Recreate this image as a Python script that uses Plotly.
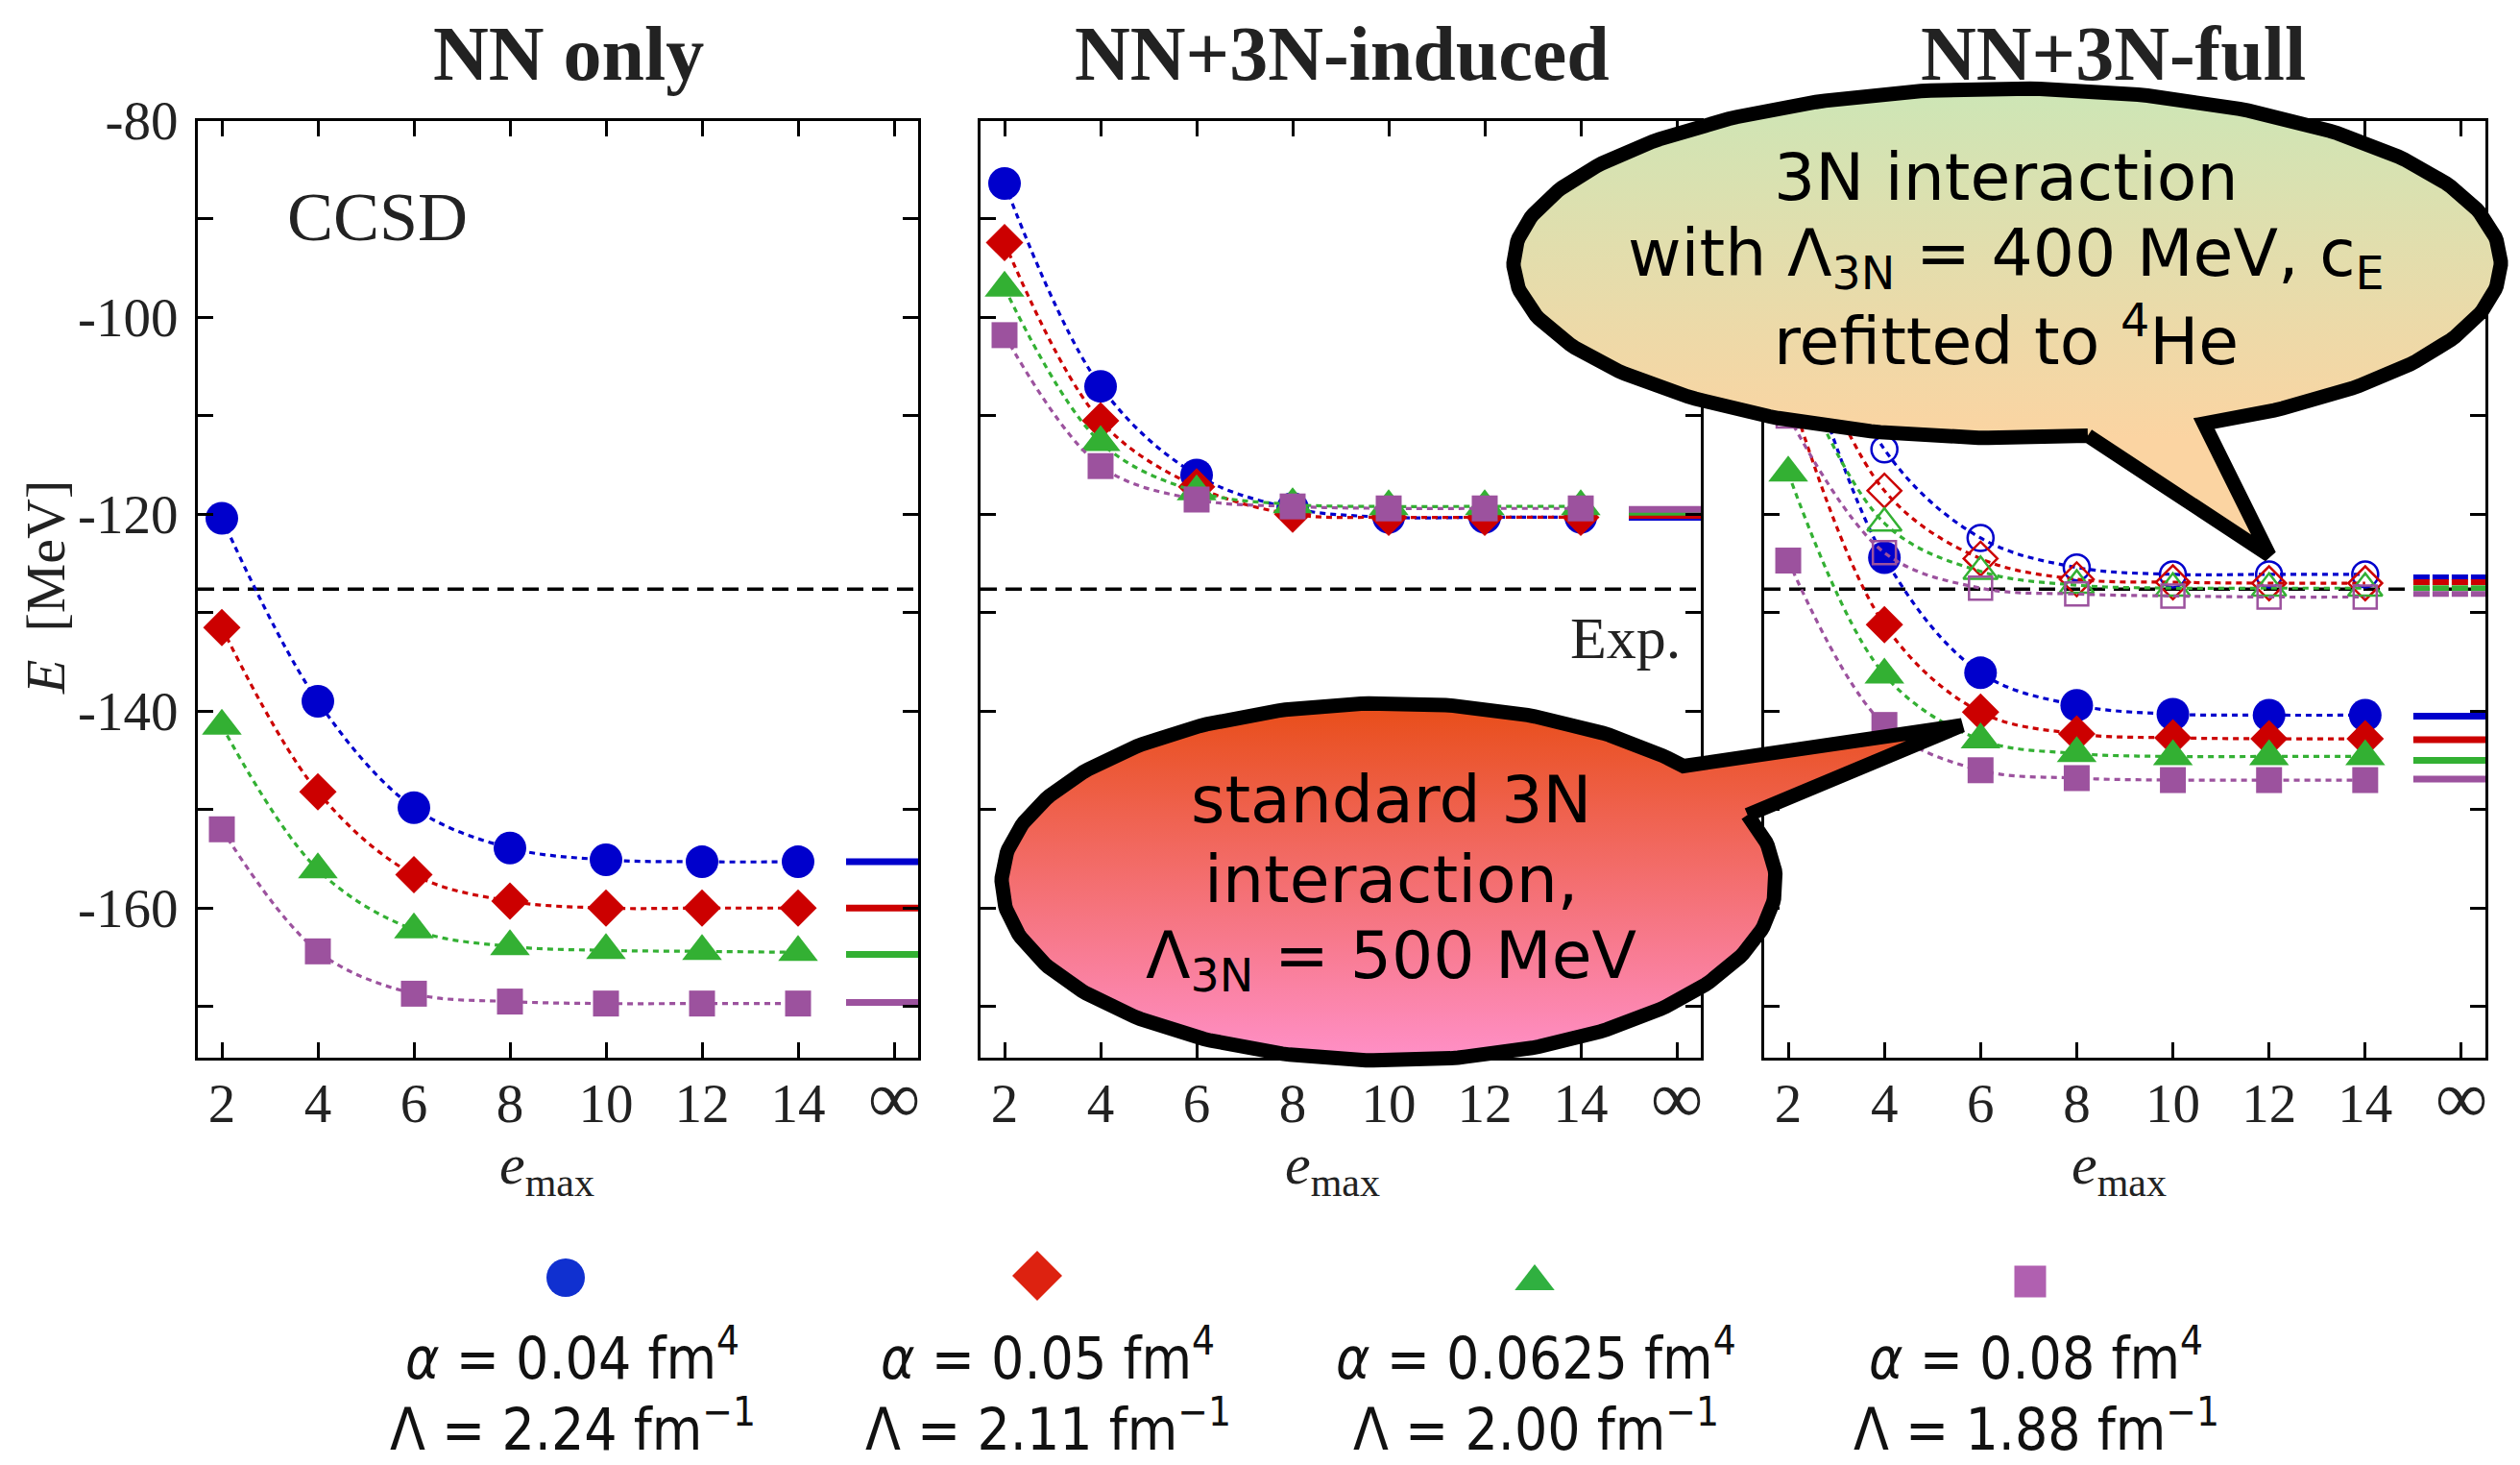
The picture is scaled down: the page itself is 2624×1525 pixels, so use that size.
import numpy as np
import plotly.graph_objects as go

W, H = 2624, 1525
OFF = 8  # page body margin compensation (px)

# ---------------- data ----------------
emax = [2, 4, 6, 8, 10, 12, 14]
x_tick_vals = [2, 4, 6, 8, 10, 12, 14, 16]
x_tick_text = ["2", "4", "6", "8", "10", "12", "14", '<span style="font-size:76px">∞</span>']
y_tick_vals = [-170, -160, -150, -140, -130, -120, -110, -100, -90, -80]
y_tick_text = ["", "-160", "", "-140", "", "-120", "", "-100", "", "-80"]
e_exp = -127.6

panel_titles = ["NN only", "NN+3N-induced", "NN+3N-full"]
alpha_labels = ["0.04", "0.05", "0.0625", "0.08"]
lambda_labels = ["2.24", "2.11", "2.00", "1.88"]

# NN only
nn_a004 = [-120.4, -139.0, -149.8, -153.9, -155.1, -155.3, -155.3]
nn_a005 = [-131.5, -148.2, -156.6, -159.3, -160.0, -160.0, -160.0]
nn_a0625 = [-141.5, -156.1, -162.2, -163.9, -164.3, -164.4, -164.5]
nn_a008 = [-152.0, -164.4, -168.7, -169.5, -169.7, -169.7, -169.7]
nn_inf = [-155.3, -160.0, -164.7, -169.6]

# NN+3N-induced
ind_a004 = [-86.4, -107.0, -116.0, -119.4, -120.3, -120.3, -120.3]
ind_a005 = [-92.4, -110.5, -117.2, -120.0, -120.3, -120.3, -120.3]
ind_a0625 = [-97.0, -112.7, -117.7, -119.0, -119.2, -119.2, -119.2]
ind_a008 = [-101.8, -115.1, -118.5, -119.2, -119.4, -119.4, -119.4]
ind_inf = [-120.3, -120.1, -119.8, -119.5]

# NN+3N-full, standard 3N (Lambda_3N = 500 MeV), filled symbols
full500_a004 = [-98.0, -124.4, -136.1, -139.4, -140.3, -140.4, -140.4]
full500_a005 = [-107.0, -131.2, -140.1, -142.3, -142.7, -142.8, -142.8]
full500_a0625 = [-115.8, -136.3, -142.9, -144.3, -144.6, -144.6, -144.6]
full500_a008 = [-124.7, -141.4, -146.0, -146.8, -147.0, -147.0, -147.0]
full500_inf = [-140.5, -142.9, -145.0, -146.9]

# NN+3N-full, Lambda_3N = 400 MeV, open symbols
full400_a004 = [-90.0, -113.4, -122.4, -125.4, -126.1, -126.1, -126.1]
full400_a005 = [-97.0, -117.6, -124.5, -126.6, -126.9, -127.0, -127.0]
full400_a0625 = [-103.0, -120.9, -125.8, -127.2, -127.5, -127.5, -127.5]
full400_a008 = [-110.0, -123.9, -127.5, -128.1, -128.3, -128.4, -128.4]
full400_inf = [-126.4, -126.9, -127.5, -128.1]

# ---------------- style ----------------
colors = ["#0000cc", "#cc0000", "#33b033", "#9c529e"]
legend_colors = ["#1030d0", "#dd2210", "#30b040", "#b060b0"]
symbols = ["circle", "diamond", "triangle-up", "square"]
sizes_filled = [34, 30, 36, 27]
sizes_open = [27, 27, 31, 24]
x_range = [1.5, 16.5]
inf_bar = [15.0, 16.5]
y_range = [-175.2, -80]

SERIF = "Liberation Serif"
SANS = "DejaVu Sans"

fig = go.Figure()


def axn(k):
    return "" if k == 1 else str(k)


def add_series(k, vals, inf_val, i, open_=False):
    xa, ya = "x" + axn(k), "y" + axn(k)
    sym = symbols[i] + ("-open" if open_ else "")
    fig.add_trace(go.Scatter(
        x=emax, y=vals, xaxis=xa, yaxis=ya, mode="lines+markers",
        line=dict(color=colors[i], width=3.2, dash="6px,5px", shape="spline"),
        marker=dict(symbol=sym, size=(sizes_open if open_ else sizes_filled)[i],
                    color=colors[i],
                    line=dict(width=2.5 if open_ else 0, color=colors[i])),
        showlegend=False, hoverinfo="skip"))
    fig.add_trace(go.Scatter(
        x=inf_bar, y=[inf_val, inf_val], xaxis=xa, yaxis=ya, mode="lines",
        line=dict(color=colors[i], width=6 if open_ else 7,
                  dash="17px,3px" if open_ else "solid"),
        showlegend=False, hoverinfo="skip"))


panels = [
    ([nn_a004, nn_a005, nn_a0625, nn_a008], nn_inf),
    ([ind_a004, ind_a005, ind_a0625, ind_a008], ind_inf),
    ([full500_a004, full500_a005, full500_a0625, full500_a008], full500_inf),
]

for k in (1, 2, 3):
    xa, ya = "x" + axn(k), "y" + axn(k)
    fig.add_trace(go.Scatter(x=x_range, y=[e_exp, e_exp], xaxis=xa, yaxis=ya,
                             mode="lines", line=dict(color="black", width=3.5, dash="17px,9px"),
                             showlegend=False, hoverinfo="skip"))
    series, infs = panels[k - 1]
    for i in range(4):
        add_series(k, series[i], infs[i], i)

open_series = [full400_a004, full400_a005, full400_a0625, full400_a008]
for i in range(4):
    add_series(3, open_series[i], full400_inf[i], i, open_=True)


# ---------------- axes ----------------
def fx(t):
    return (t - OFF) / W


def fy(t):
    return 1 - (t - OFF) / H


doms_x = [[fx(206), fx(956)], [fx(1021), fx(1771)], [fx(1837), fx(2588)]]
dom_y = [fy(1101), fy(125.5)]
for k in (1, 2, 3):
    n = axn(k)
    fig.layout["xaxis" + n] = dict(
        domain=doms_x[k - 1], anchor="y" + n, range=x_range, automargin=False,
        tickmode="array", tickvals=x_tick_vals, ticktext=x_tick_text,
        ticks="inside", ticklen=16, tickwidth=3, tickcolor="black",
        mirror="ticks", showline=True, linewidth=3, linecolor="black",
        showgrid=False, zeroline=False, ticklabelstandoff=-4,
        tickfont=dict(family=SERIF, size=57, color="#222"))
    fig.layout["yaxis" + n] = dict(
        domain=dom_y, anchor="x" + n, range=y_range, automargin=False,
        tickmode="array", tickvals=y_tick_vals, ticktext=y_tick_text,
        showticklabels=(k == 1),
        ticks="inside", ticklen=16, tickwidth=3, tickcolor="black",
        mirror="ticks", showline=True, linewidth=3, linecolor="black",
        showgrid=False, zeroline=False, ticklabelstandoff=6,
        tickfont=dict(family=SERIF, size=57, color="#222"))

# overlay pixel axes (screen pixel coordinates) for decorations
fig.layout["xaxis4"] = dict(domain=[0, 1], range=[OFF, W + OFF], visible=False, anchor="y4",
                            fixedrange=True, automargin=False)
fig.layout["yaxis4"] = dict(domain=[0, 1], range=[H + OFF, OFF], visible=False, anchor="x4",
                            fixedrange=True, automargin=False)


def bubble(cx, cy, rx, ry, t1, t2, tip, top_col, bot_col):
    ts = np.radians(np.linspace(t2, t1 + 360, 300))
    xs = list(cx + rx * np.cos(ts)) + [tip[0], cx + rx * np.cos(np.radians(t2))]
    ys = list(cy + ry * np.sin(ts)) + [tip[1], cy + ry * np.sin(np.radians(t2))]
    fig.add_trace(go.Scatter(
        x=xs, y=ys, xaxis="x4", yaxis="y4", mode="lines", fill="toself",
        fillgradient=dict(type="vertical", start=cy - ry, stop=cy + ry,
                          colorscale=[[0, top_col], [1, bot_col]]),
        line=dict(color="black", width=15),
        showlegend=False, hoverinfo="skip"))


bubble(2090, 274, 514, 182, 66.5, 80.6, (2363, 578), "#cde6b6", "#fbd4a2")
bubble(1446, 918, 403, 186, -40.4, -22.0, (2043, 755), "#e84d18", "#ff90c8")

# custom legend symbols
leg_x = [589, 1080, 1598, 2114]
leg_y = [1330, 1328, 1334, 1334]
leg_sizes = [40, 40, 36, 33]
for i in range(4):
    fig.add_trace(go.Scatter(x=[leg_x[i]], y=[leg_y[i]], xaxis="x4", yaxis="y4", mode="markers",
                             marker=dict(symbol=symbols[i], size=leg_sizes[i], color=legend_colors[i]),
                             showlegend=False, hoverinfo="skip"))

# ---------------- annotations ----------------
ann = []


def A(x, y, text, size, family=SERIF, color="#222", **kw):
    d = dict(x=x, y=y, xref="x4", yref="y4", text=text, showarrow=False,
             font=dict(family=family, size=size, color=color), xanchor="center", yanchor="middle")
    d.update(kw)
    ann.append(d)


title_x = [592, 1397, 2200]
for i in range(3):
    A(title_x[i], 56, "<b>" + panel_titles[i] + "</b>", 80)

A(393, 226, "CCSD", 72)
A(1692, 664, "Exp.", 62)
A(47, 612, "<i>E</i>  [MeV]", 58, textangle=-90)
for cx in (569, 1387, 2206):
    A(cx, 1216, "<i>e</i><sub>max</sub>", 60)

bubble1_lines = ["3N interaction", "with Λ<sub>3N</sub> = 400 MeV, c<sub>E</sub>", "refitted to <sup>4</sup>He"]
bubble1_y = [184, 268, 350]
for t, y in zip(bubble1_lines, bubble1_y):
    A(2089, y, t, 68, family=SANS, color="black")
bubble2_lines = ["standard 3N", "interaction,", "Λ<sub>3N</sub> = 500 MeV"]
bubble2_y = [832, 915, 999]
for t, y in zip(bubble2_lines, bubble2_y):
    A(1448, y, t, 68, family=SANS, color="black")

leg_tx = [596, 1091, 1599, 2120]
LEGF = "DejaVu Sans Condensed, DejaVu Sans"
for i in range(4):
    A(leg_tx[i], 1410, "<i>α</i> = " + alpha_labels[i] + " fm<sup>4</sup>", 60, family=LEGF, color="#111")
    A(leg_tx[i], 1484, "Λ = " + lambda_labels[i] + " fm<sup>−1</sup>", 60, family=LEGF, color="#111")

fig.update_layout(
    width=W, height=H, autosize=False,
    margin=dict(l=0, r=0, t=0, b=0, pad=0, autoexpand=False),
    paper_bgcolor="white", plot_bgcolor="rgba(0,0,0,0)",
    annotations=ann, showlegend=False)

fig.write_html("out.html")
